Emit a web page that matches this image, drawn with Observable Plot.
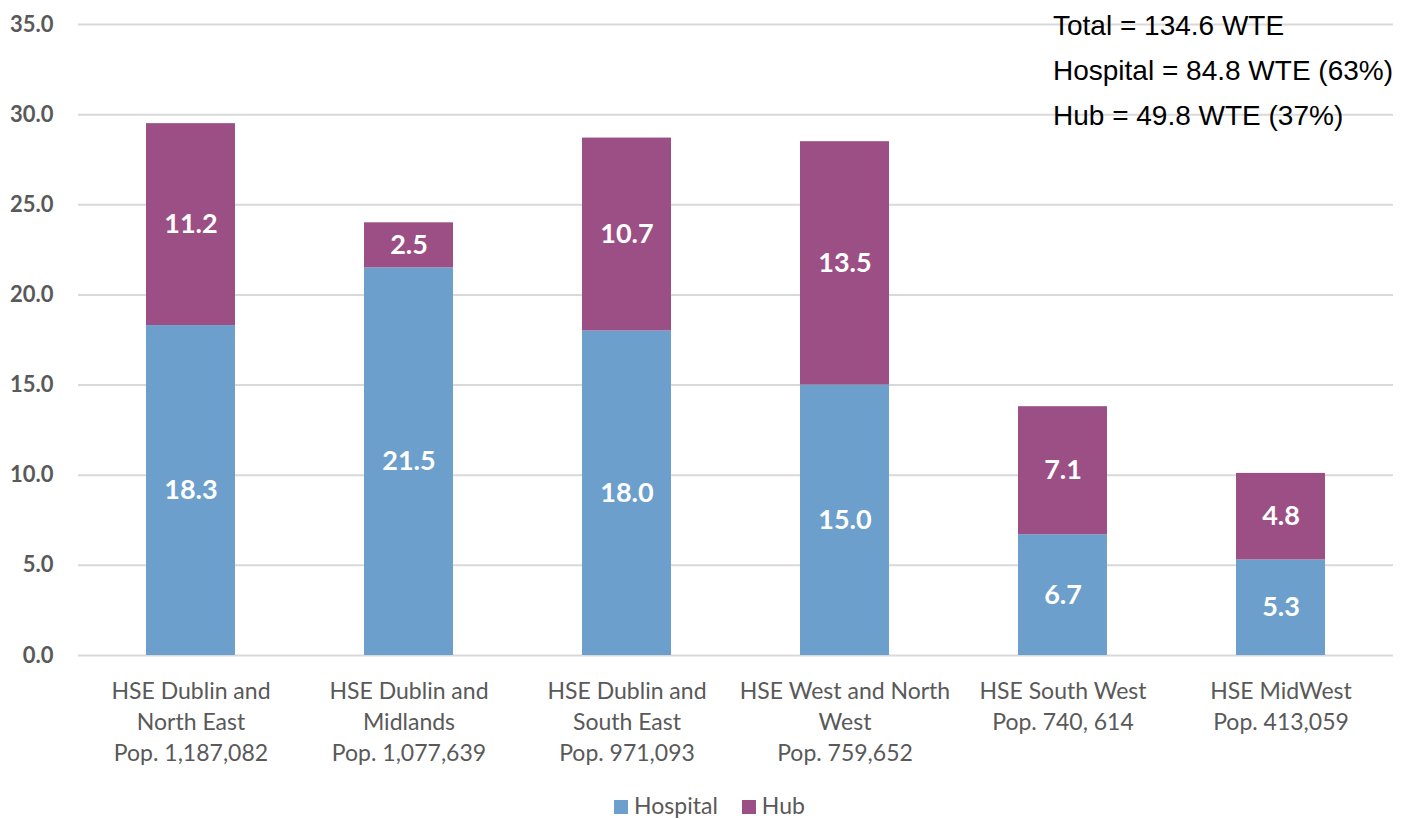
<!DOCTYPE html>
<html>
<head>
<meta charset="utf-8">
<script src="https://cdn.jsdelivr.net/npm/d3@7"></script>
<script src="https://cdn.jsdelivr.net/npm/@observablehq/plot@0.6"></script>
<style>
  html, body { margin: 0; padding: 0; background: #fff; }
  #wrap { position: relative; width: 1419px; height: 819px; }
  #note { position: absolute; left: 1053px; top: 3px; font-family: "Liberation Sans", Arial, sans-serif; font-size: 28px; color: #000; line-height: 45px; }
  #legend { position: absolute; left: 0; width: 1419px; top: 791px; text-align: center; font-family: Lato, "Open Sans", sans-serif; font-size: 23px; color: #595959; }
  #legend span.item { display: inline-block; margin: 0 12px; }
  #legend span.sw { display: inline-block; width: 14px; height: 14px; margin-right: 6px; vertical-align: 0px; }
</style>
</head>
<body>
<div id="wrap">
  <div id="chart"></div>
  <div id="note"></div>
  <div id="legend"></div>
</div>
<script>
const regions = [
  "HSE Dublin and\nNorth East\nPop. 1,187,082",
  "HSE Dublin and\nMidlands\nPop. 1,077,639",
  "HSE Dublin and\nSouth East\nPop. 971,093",
  "HSE West and North\nWest\nPop. 759,652",
  "HSE South West\nPop. 740, 614",
  "HSE MidWest\nPop. 413,059"
];
const series = ["Hospital", "Hub"];
const hospital = [18.3, 21.5, 18.0, 15.0, 6.7, 5.3];
const hub = [11.2, 2.5, 10.7, 13.5, 7.1, 4.8];
const colors = ["#6c9fcb", "#9b4f84"];
const yTicks = [0, 5, 10, 15, 20, 25, 30, 35];
const notes = ["Total = 134.6 WTE", "Hospital = 84.8 WTE (63%)", "Hub = 49.8 WTE (37%)"];

const data = [];
regions.forEach((r, i) => {
  data.push({region: r, type: "Hospital", value: hospital[i]});
  data.push({region: r, type: "Hub", value: hub[i]});
});

const chart = Plot.plot({
  width: 1419,
  height: 775,
  marginLeft: 78,
  marginRight: 26,
  marginTop: 24,
  marginBottom: 120,
  style: {fontFamily: "Lato, 'Open Sans', sans-serif", color: "#595959", background: "#fff"},
  x: {domain: regions, paddingInner: 0.594, paddingOuter: 0.3, label: null},
  y: {domain: [0, 35], label: null},
  color: {domain: series, range: colors},
  marks: [
    Plot.ruleY(yTicks, {stroke: "#d9d9d9", strokeWidth: 2}),
    Plot.barY(data, {x: "region", y: "value", fill: "type"}),
    Plot.text(data, Plot.stackY({x: "region", y: "value", z: "type", text: d => d.value.toFixed(1), fill: "white", fontSize: 27, fontWeight: "bold"})),
    Plot.axisY({ticks: yTicks, tickFormat: d => d.toFixed(1), tickSize: 0, tickPadding: 25, fontSize: 22, fontWeight: "bold", label: null}),
    Plot.axisX({tickSize: 0, tickPadding: 21, fontSize: 23, lineHeight: 1.35, label: null})
  ]
});
document.getElementById("chart").appendChild(chart);

document.getElementById("note").innerHTML = notes.map(t => `<div>${t}</div>`).join("");
document.getElementById("legend").innerHTML = series.map((s, i) =>
  `<span class="item"><span class="sw" style="background:${colors[i]}"></span>${s}</span>`).join("");
</script>
</body>
</html>
